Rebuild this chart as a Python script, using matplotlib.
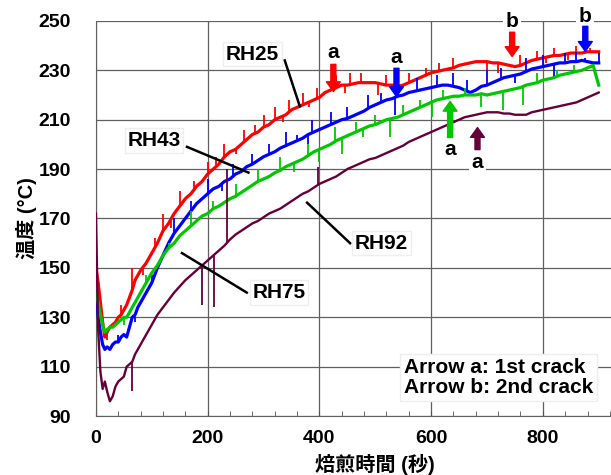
import numpy as np
import matplotlib
matplotlib.use("Agg")
import matplotlib.pyplot as plt
from matplotlib.ticker import MultipleLocator

plt.rcParams['font.family'] = ['Liberation Sans', 'Noto Sans CJK JP', 'DejaVu Sans']
plt.rcParams['font.weight'] = 'bold'

# roasting time (s)
time_s = [0, 4, 8, 12, 16, 20, 25, 30, 35, 40, 45, 50, 55, 60, 65, 70, 75, 80,
          90, 100, 110, 120, 130, 140, 150, 160, 170, 180, 190, 200,
          210, 220, 230, 240, 250, 260, 270, 280, 290, 300,
          310, 320, 330, 340, 350, 360, 370, 380, 390, 400,
          410, 420, 430, 440, 450, 460, 470, 480, 490, 500,
          510, 520, 530, 540, 550, 560, 570, 580, 590, 600,
          610, 620, 630, 640, 650, 660, 670, 680, 690, 700,
          710, 720, 730, 740, 750, 760, 770, 780, 790, 800,
          810, 820, 830, 840, 850, 860, 870, 880, 890, 900]

rh25 = [150, 144, 136, 128, 122, 124, 126, 127, 128, 130, 131, 133, 135, 138, 141, 145, 147, 149,
        152, 156, 160, 165, 168, 172, 175, 178, 180, 183, 185, 188,
        190, 192, 195, 197, 198, 200, 202, 204, 205, 207,
        208, 210, 211, 212, 214, 215, 216, 217, 218, 219,
        221, 222, 223, 224, 224, 224.5, 225, 225, 225, 225,
        224.5, 224, 224, 223.5, 224, 225, 226, 227, 228, 229,
        229.5, 230, 230.5, 231, 232, 232.5, 233, 233.5, 233.5, 233.5,
        233, 233, 232.5, 232, 231.5, 232, 233, 234, 234.5, 235,
        235.5, 236, 236, 236.5, 237, 237, 237, 237.5, 237.5, 237.5]

rh43 = [140, 130, 124, 119, 117, 118, 117, 119, 120, 120, 122, 123, 122, 126, 130, 131, 134, 136,
        140, 144, 150, 155, 160, 164, 167, 170, 173, 176, 178, 180,
        182, 183, 185, 186, 188, 189, 191, 192, 193.5, 195,
        196, 197, 198.5, 199.5, 200.5, 201.5, 202.5, 204, 205, 206,
        207, 208, 209, 210, 210.5, 211.5, 212.5, 213.5, 215, 216,
        217, 218, 218.5, 219.5, 220, 221, 221.5, 222, 222.5, 223,
        223.5, 224, 224, 223.5, 223, 222, 221, 222, 223.5, 224,
        225, 226, 227, 227.5, 228, 228.5, 229.5, 230.5, 231, 231.5,
        232, 232.5, 233, 233, 233.5, 233.5, 234, 233.5, 233, 233]

rh75 = [140, 136, 131, 127, 124, 125, 126, 126, 127, 128, 129, 130, 130, 132, 134, 136, 138, 140,
        144, 148, 151, 155, 158, 160, 163, 165, 167, 169, 171, 172,
        174, 175, 176.5, 178, 179, 180.5, 182, 183.5, 185, 186,
        187, 188.5, 189.5, 191, 192, 193, 194, 195.5, 197, 198,
        199, 200, 201.5, 202.5, 203.5, 204.5, 205.5, 206.5, 207.5, 208,
        209, 210, 210.5, 211, 212, 213, 214, 215, 216, 217,
        218, 218.5, 219, 219.5, 219.5, 220, 220, 220, 220.5, 220,
        220.5, 221, 221.5, 222, 222.5, 223, 224, 224.5, 225, 226,
        226.5, 227, 228, 228.5, 229, 229.5, 230, 231, 232, 224]

rh92 = [172, 125, 108, 101, 104, 100, 96, 98, 102, 104, 105, 106, 110, 111, 112, 115, 117, 119,
        123, 127, 131, 134, 137, 140, 142.5, 145, 147, 149, 151, 153,
        155, 157, 159, 161.5, 163.5, 165, 166.5, 168, 169, 170.5,
        172, 173, 174, 175.5, 177, 178.5, 180, 181, 182.5, 184,
        185, 186, 187, 188.5, 190, 191, 192, 193, 194, 194.5,
        195.5, 196.5, 197.5, 198.5, 199.5, 201, 202, 203, 204, 205,
        206, 207, 208, 209, 210, 211, 211.5, 212, 212.5, 213,
        213, 213, 212.5, 212.5, 212, 212, 212, 213, 213.5, 214,
        214.5, 215, 215.5, 216, 216.5, 217, 218, 219, 220, 221]

# noise spikes seen on the traces: time and peak value
rh25_spike_t = [20, 45, 65, 85, 105, 120, 135, 150, 175, 200, 215, 230, 250, 265, 285, 300,
                320, 335, 345, 370, 382, 395, 430, 445, 455, 475, 505, 520, 560, 590, 615,
                640, 700, 720, 760, 790, 805, 820, 845, 860, 885]
rh25_spike_v = [121, 135, 150, 147, 162, 172, 166, 181, 185, 193, 195, 200, 196, 206, 208, 212,
                215, 209, 218, 221, 215, 223, 228, 221, 229, 229, 220, 228, 229, 231, 233,
                235, 230, 229, 236, 238, 233, 239, 234, 240, 239]
rh43_spike_t = [40, 70, 100, 140, 170, 200, 225, 246, 279, 310, 340, 360, 380, 386, 420, 450,
                487, 510, 535, 540, 575, 610, 640, 665, 700, 725, 750, 770, 800, 820, 840,
                860, 875, 900]
rh43_spike_v = [123, 128, 147, 170, 177, 186, 181, 192, 196, 200, 205, 204, 200, 210, 213, 215,
                220, 221, 212, 225, 227, 228, 229, 226, 230, 231, 225, 235, 236, 227, 237,
                237.5, 235, 237]
rh75_spike_t = [50, 90, 130, 170, 210, 250, 290, 330, 355, 380, 400, 428, 440, 465, 478, 500,
                526, 550, 580, 602, 622, 660, 690, 729, 765, 790, 825, 855]
rh75_spike_v = [127, 147, 160, 173, 177, 184, 190, 195, 189, 200, 193, 207, 196, 209, 203, 212,
                203, 216, 218, 211, 222, 223, 215, 214, 216, 229, 230, 232]
rh92_spike_t = [64, 190, 212, 234, 397]
rh92_spike_v = [100, 135, 134, 190, 191]

series = [
    ('RH25', rh25, rh25_spike_t, rh25_spike_v, '#ff0000', 2.3),
    ('RH43', rh43, rh43_spike_t, rh43_spike_v, '#0000ff', 2.3),
    ('RH75', rh75, rh75_spike_t, rh75_spike_v, '#00c800', 2.3),
    ('RH92', rh92, rh92_spike_t, rh92_spike_v, '#66003a', 1.7),
]

# crack arrows: (time, tip, tail, label y, label, colour)
crack_arrows = [
    (425, 221.4, 232.4, 237.3, 'a', '#ff0000'),
    (538, 219.4, 230.8, 235.2, 'a', '#0000ff'),
    (634, 217.4, 202.8, 197.9, 'a', '#00c800'),
    (683, 206.8, 197.9, 192.6, 'a', '#66003a'),
    (745, 235.6, 245.4, 249.8, 'b', '#ff0000'),
    (876, 237.7, 247.8, 251.9, 'b', '#0000ff'),
]

# curve labels: text position, leader line start/end
curve_labels = [
    ('RH25', (280, 236.5), (338, 234), (365, 215.4)),
    ('RH43', (104, 201.5), (163, 199), (273, 188.6)),
    ('RH75', (328, 140), (270, 140), (154, 156)),
    ('RH92', (511, 160), (455, 160), (378, 176.4)),
]

fig = plt.figure(figsize=(6.11, 4.75), dpi=100)
ax = fig.add_axes([0.157, 0.124, 0.843, 0.832])

t = np.array(time_s)
for name, vals, st, sv, col, lw in series:
    ax.plot(t, vals, color=col, lw=lw, zorder=3)
    base = np.interp(st, t, vals)
    ax.vlines(st, base, sv, color=col, lw=1.3, zorder=3)

for name, (tx, ty), (x0, y0), (x1, y1) in curve_labels:
    ax.plot([x0, x1], [y0, y1], color='black', lw=1.8, zorder=4)
    ax.text(tx, ty, name, ha='center', va='center', fontsize=15, fontweight='bold', zorder=5,
            bbox=dict(facecolor='white', edgecolor='#eeeeee', pad=2))

for tc, tip, tail, ly, lab, col in crack_arrows:
    ax.annotate('', xy=(tc, tip), xytext=(tc, tail), zorder=6,
                arrowprops=dict(facecolor=col, edgecolor=col, width=3.6, headwidth=10,
                                headlength=7, shrink=0))
    ax.text(tc, ly, lab, ha='center', va='center', fontsize=15, fontweight='bold', zorder=5,
            bbox=dict(facecolor='white', edgecolor='none', pad=2))

ax.text(551, 105.6, 'Arrow a: 1st crack\nArrow b: 2nd crack', ha='left', va='center',
        fontsize=15, fontweight='bold', linespacing=1.1, zorder=5,
        bbox=dict(facecolor='white', edgecolor='#eeeeee', pad=3))

ax.set_xlim(0, 922)
ax.set_ylim(90, 250)
ax.set_xticks([0, 200, 400, 600, 800])
ax.xaxis.set_minor_locator(MultipleLocator(40))
ax.set_yticks(np.arange(90, 251, 20))
ax.tick_params(axis='x', which='both', direction='in', length=3.5, color='#555555',
               labelsize=14, pad=10)
ax.tick_params(axis='y', length=0, labelsize=14, pad=18)
for lab in ax.get_xticklabels() + ax.get_yticklabels():
    lab.set_fontweight('bold')

ax.grid(True, which='major', color='#606060', lw=0.9, zorder=1)
for side in ['top', 'right']:
    ax.spines[side].set_visible(False)
for side in ['left', 'bottom']:
    ax.spines[side].set_color('#606060')

ax.set_xlabel('焙煎時間 (秒)', fontsize=14.5, fontweight='bold')
ax.xaxis.set_label_coords(0.542, -0.095)
ax.set_ylabel('温度 (°C)', fontsize=14.5, fontweight='bold')
ax.yaxis.set_label_coords(-0.115, 0.5)

fig.savefig('out.png', dpi=100)
